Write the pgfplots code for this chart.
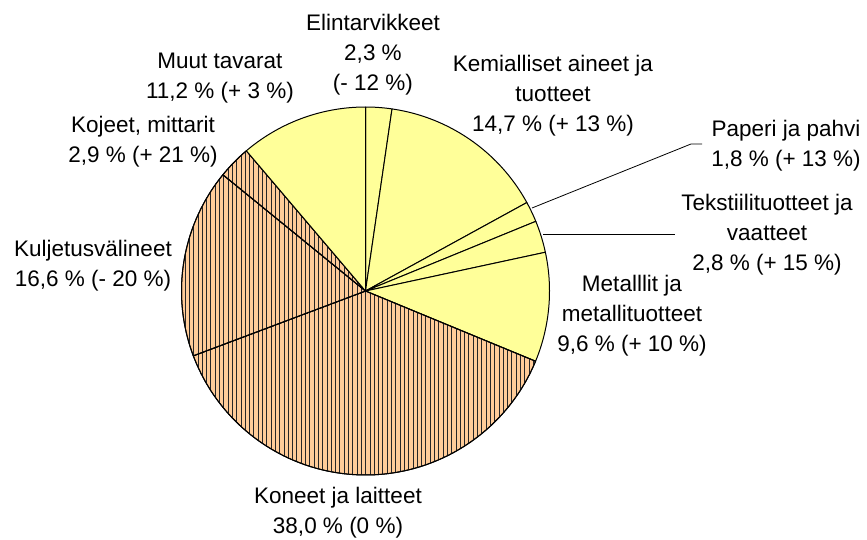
\documentclass[border=0pt]{standalone}
\usepackage{pgfplots}
\pgfplotsset{compat=1.18}
\usepackage{fontspec}
\setmainfont{Liberation Sans}
\usetikzlibrary{patterns.meta}
\definecolor{pieyellow}{HTML}{FFFF99}
\definecolor{pieorange}{HTML}{FFCC99}
% slice: cumulative start (%), share (%), style; shares sum to 99.9
\newcommand\slice[3]{%
  \addplot[#3, draw=black, line width=1pt, line join=round, samples=90, variable=\t,
    domain={90-360/99.9*(#1+#2)}:{90-360/99.9*(#1)}]
    ({365.5+184*cos(t)},{248+184*sin(t)}) -- (axis cs:365.5,248) -- cycle;}
\tikzset{
  yel/.style={fill=pieyellow},
  hat/.style={preaction={fill=pieorange},
    pattern={Lines[angle=90,distance=4.3pt,line width=0.6pt]}, pattern color=black!85},
  lab/.style={align=center, font=\fontsize{22.5}{30}\selectfont, inner sep=0pt}
}
\begin{document}
\begin{tikzpicture}
\begin{axis}[width=867pt, height=539pt, scale only axis,
  xmin=0, xmax=867, ymin=0, ymax=539, hide axis, clip=false]
\path (axis cs:0,0) rectangle (axis cs:867,539);
% shares (%): 2.3, 14.7, 1.8, 2.8, 9.6, 38.0, 16.6, 2.9, 11.2
\slice{0}{2.3}{yel}
\slice{2.3}{14.7}{yel}
\slice{17.0}{1.8}{yel}
\slice{18.8}{2.8}{yel}
\slice{21.6}{9.6}{yel}
\slice{31.2}{38.0}{hat}
\slice{69.2}{16.6}{hat}
\slice{85.8}{2.9}{hat}
\slice{88.7}{11.2}{yel}
% leader lines
\addplot[black, line width=0.8pt] coordinates {(532,331) (691,395) (702,395)};
\addplot[black, line width=0.8pt] coordinates {(543,305) (675,305)};
% labels
\node[lab] at (axis cs:373,484) {Elintarvikkeet\\2,3 \%\\(- 12 \%)};
\node[lab] at (axis cs:220,461) {Muut tavarat\\11,2 \% (+ 3 \%)};
\node[lab] at (axis cs:143,397) {Kojeet, mittarit\\2,9 \% (+ 21 \%)};
\node[lab] at (axis cs:553,443) {Kemialliset aineet ja\\tuotteet\\14,7 \% (+ 13 \%)};
\node[lab] at (axis cs:786,393) {Paperi ja pahvi\\1,8 \% (+ 13 \%)};
\node[lab] at (axis cs:767,304) {Tekstiilituotteet ja\\vaatteet\\2,8 \% (+ 15 \%)};
\node[lab] at (axis cs:632,223) {Metalllit ja\\metallituotteet\\9,6 \% (+ 10 \%)};
\node[lab] at (axis cs:93,273) {Kuljetusvälineet\\16,6 \% (- 20 \%)};
\node[lab] at (axis cs:338,26) {Koneet ja laitteet\\38,0 \% (0 \%)};
\end{axis}
\end{tikzpicture}
\end{document}
